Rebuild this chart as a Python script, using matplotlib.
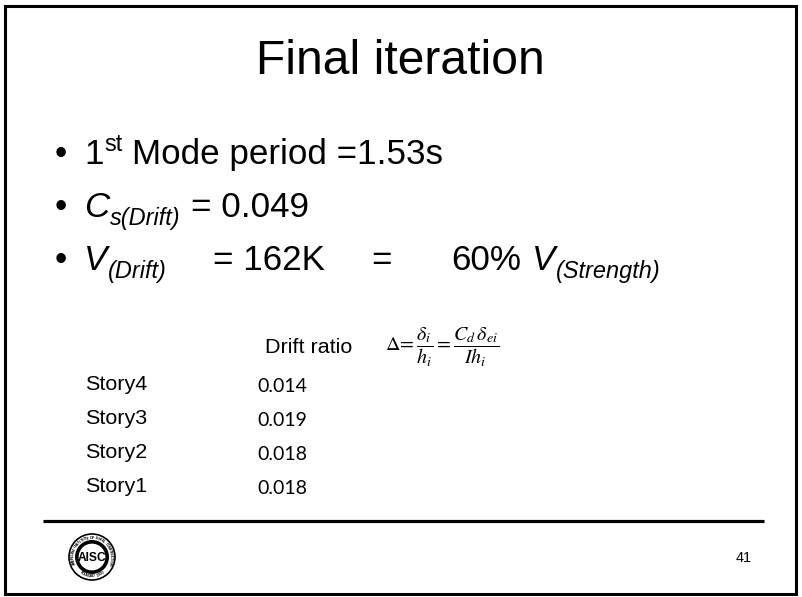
import matplotlib
matplotlib.use("Agg")
import numpy as np
import matplotlib.pyplot as plt
from matplotlib.patches import Circle, Rectangle

# ---- data ----
title = "Final iteration"
mode_period = "1.53s"
cs_drift = "0.049"
v_drift = "162K"
v_pct = "60%"
table_header = "Drift ratio"
stories = ["Story4", "Story3", "Story2", "Story1"]
drift_ratio = ["0.014", "0.019", "0.018", "0.018"]
page_number = "41"
logo_top = "AMERICAN INSTITUTE OF STEEL CONSTRUCTION"
logo_bottom = "FOUNDED 1921"

W, H = 803, 597
fig = plt.figure(figsize=(W / 100, H / 100), dpi=100)
ax = fig.add_axes([0, 0, 1, 1])
ax.set_xlim(0, W)
ax.set_ylim(H, 0)
ax.axis("off")
renderer = fig.canvas.get_renderer()


def pt(px):
    return px * 72 / 100


SANS = "Liberation Sans"


def run(x, y, segs):
    """segs: (text, size_px, style, dy, gap_before_px)"""
    for text, size, style, dy, gap in segs:
        x += gap
        t = ax.text(x, y + dy, text, fontsize=pt(size), family=SANS, style=style,
                    va="baseline", ha="left")
        x += t.get_window_extent(renderer).width
    return x


# frame
ax.add_patch(Rectangle((5.5, 5.5), 790.5, 588, fill=False, lw=2.2, ec="black"))

# title
ax.text(400, 74, title, ha="center", va="baseline", fontsize=pt(48), family=SANS)

# bullets
bx, tx = 55, 84
F = 35
S = 0.67 * F
sub = 0.22 * F
sup = -0.36 * F
spc = 0.278 * F
base = [164, 217, 270]
for y in base:
    ax.text(bx, y, "\u2022", fontsize=pt(F), family=SANS, va="baseline", ha="left")

run(tx, base[0], [("1", F, "normal", 0, 0),
                  ("st", S, "normal", sup, 1),
                  ("Mode period =" + mode_period, F, "normal", 0, spc)])
run(tx, base[1], [("C", F, "italic", 0, 0),
                  ("s(Drift)", S, "italic", sub, 1),
                  ("= " + cs_drift, F, "normal", 0, spc)])
run(tx, base[2], [("V", F, "italic", 0, 0),
                  ("(Drift)", S, "italic", sub, 1),
                  ("= " + v_drift, F, "normal", 0, 46),
                  ("=", F, "normal", 0, 46),
                  (v_pct, F, "normal", 0, 60),
                  ("V", F, "italic", 0, spc),
                  ("(Strength)", S, "italic", sub, 1)])

# table
ax.text(265, 353, table_header, fontsize=pt(21.5), family=SANS, va="baseline")
t = ax.text(385, 347, r"$\Delta\!=\dfrac{\delta_i}{h_i}=\dfrac{C_d\,\delta_{ei}}{I h_i}$",
            fontsize=pt(20), va="center")
t.set_math_fontfamily("stix")
rows_y = [390, 424, 458, 492]
for s, v, y in zip(stories, drift_ratio, rows_y):
    ax.text(85, y, s, fontsize=pt(21.5), family=SANS, va="baseline")
    ax.text(257, y + 2, v, fontsize=pt(19.5), family="Lato", va="baseline")

# rule
ax.plot([43, 764], [521, 521], color="black", lw=2.3, solid_capstyle="butt")

# logo
cx, cy, r = 92, 557, 23
ax.add_patch(Circle((cx, cy), r, fill=False, ec="black", lw=1.2))
ax.add_patch(Circle((cx, cy), r * 0.66, fill=False, ec="black", lw=2.6))
ax.text(cx, cy + 1, "AISC", ha="center", va="center", fontsize=pt(12),
        family=SANS, weight="bold")
rr = r * 0.83
n = len(logo_top)
for i, ch in enumerate(logo_top):
    ang = np.deg2rad(200 - i * 220 / (n - 1))
    x, y = cx + rr * np.cos(ang), cy - rr * np.sin(ang)
    ax.text(x, y, ch, fontsize=pt(3.8), family=SANS, weight="bold",
            ha="center", va="center", rotation=np.rad2deg(ang) - 90)
m = len(logo_bottom)
for i, ch in enumerate(logo_bottom):
    ang = np.deg2rad(235 + i * 70 / (m - 1))
    x, y = cx + rr * np.cos(ang), cy - rr * np.sin(ang)
    ax.text(x, y, ch, fontsize=pt(3.8), family=SANS, weight="bold",
            ha="center", va="center", rotation=np.rad2deg(ang) + 90)

# page number
ax.text(736, 562, page_number, fontsize=pt(14.5), family=SANS, va="baseline")

fig.savefig("out.png", dpi=100)
